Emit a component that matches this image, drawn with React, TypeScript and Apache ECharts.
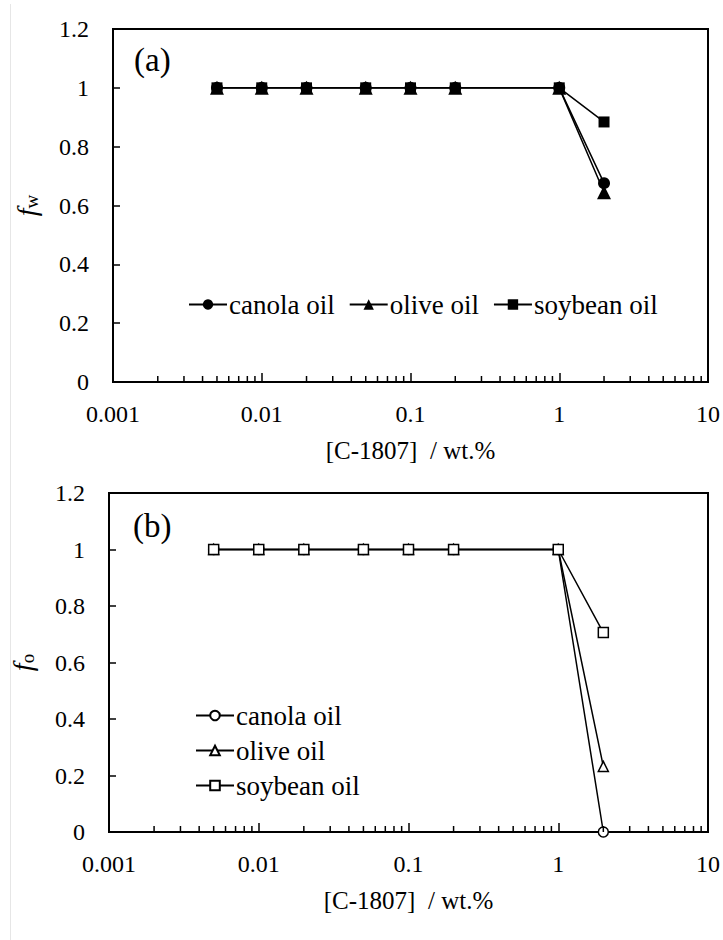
import React, { useEffect, useRef } from "react";
import * as echarts from "echarts";

const concentrations = [0.005, 0.01, 0.02, 0.05, 0.1, 0.2, 1, 2];
const seriesNames = ["canola oil", "olive oil", "soybean oil"];
// panel (a) f_w
const fwCanola = [1, 1, 1, 1, 1, 1, 1, 0.676];
const fwOlive = [1, 1, 1, 1, 1, 1, 1, 0.645];
const fwSoybean = [1, 1, 1, 1, 1, 1, 1, 0.884];
// panel (b) f_o
const foCanola = [1, 1, 1, 1, 1, 1, 1, 0];
const foOlive = [1, 1, 1, 1, 1, 1, 1, 0.232];
const foSoybean = [1, 1, 1, 1, 1, 1, 1, 0.706];
const minorTickValues = [0.001, 0.01, 0.1, 1].flatMap((d) =>
  [2, 3, 4, 5, 6, 7, 8, 9].map((m) => +(d * m).toPrecision(3))
);

const FONT = "Liberation Serif";

export default function App() {
  const ref = useRef<HTMLDivElement>(null);
  useEffect(() => {
    if (!ref.current) return;
    const chart = echarts.init(ref.current, undefined, { renderer: "svg" });

    const xAxisBase = (gridIndex: number) => ({
      type: "log",
      logBase: 10,
      min: 0.001,
      max: 10,
      gridIndex,
      name: "[C-1807]  / wt.%",
      nameLocation: "middle",
      nameGap: 56,
      nameTextStyle: { fontFamily: FONT, fontSize: 25, color: "#000" },
      axisLine: { show: true, lineStyle: { color: "#000", width: 2 } },
      axisTick: { show: true, inside: true, length: 9, lineStyle: { color: "#000", width: 1.5 } },
      axisLabel: { fontFamily: FONT, fontSize: 24, color: "#000", margin: 20 },
      splitLine: { show: false },
      minorTick: { show: false },
    });
    const yAxisBase = (gridIndex: number, sub: string) => ({
      type: "value",
      min: 0,
      max: 1.2,
      interval: 0.2,
      gridIndex,
      name: `{f|f}{s|${sub}}`,
      nameLocation: "middle",
      nameRotate: 90,
      nameGap: 72,
      nameTextStyle: {
        fontFamily: FONT,
        rich: {
          f: { fontFamily: FONT, fontStyle: "italic", fontSize: 28, color: "#000", lineHeight: 30 },
          s: { fontFamily: FONT, fontSize: 19, color: "#000", verticalAlign: "bottom", lineHeight: 18 },
        },
      },
      axisLine: { show: true, lineStyle: { color: "#000", width: 2 } },
      axisTick: { show: true, inside: true, length: 7, lineStyle: { color: "#000", width: 1.5 } },
      axisLabel: { fontFamily: FONT, fontSize: 24, color: "#000", margin: 24 },
      splitLine: { show: false },
    });

    const lineSeries = (
      name: string,
      data: number[],
      symbol: string,
      size: number,
      filled: boolean,
      idx: number
    ) => ({
      type: "line",
      name,
      xAxisIndex: idx,
      yAxisIndex: idx,
      data: concentrations.map((c, i) => [c, data[i]]),
      symbol,
      symbolSize: size,
      showAllSymbol: true,
      clip: false,
      lineStyle: { color: "#000", width: 1.5 },
      itemStyle: {
        color: filled ? "#000" : "#fff",
        borderColor: "#000",
        borderWidth: filled ? 0 : 1.5,
      },
      emphasis: { disabled: true },
      z: 3,
    });

    const minorSeries = (idx: number) => ({
      type: "custom",
      xAxisIndex: idx,
      yAxisIndex: idx,
      silent: true,
      clip: false,
      data: minorTickValues.map((v) => [v, 0]),
      renderItem: (_p: any, api: any) => {
        const p = api.coord([api.value(0), 0]);
        return {
          type: "line",
          shape: { x1: p[0], y1: p[1], x2: p[0], y2: p[1] - 6 },
          style: { stroke: "#000", lineWidth: 1.5 },
        };
      },
      z: 4,
    });

    chart.setOption({
      animation: false,
      backgroundColor: "#fff",
      textStyle: { fontFamily: FONT, color: "#000" },
      grid: [
        { left: 113, top: 29, width: 596, height: 353, show: true, borderColor: "#000", borderWidth: 2, backgroundColor: "transparent" },
        { left: 107, top: 493, width: 601, height: 339, show: true, borderColor: "#000", borderWidth: 2, backgroundColor: "transparent" },
      ],
      xAxis: [xAxisBase(0), xAxisBase(1)],
      yAxis: [yAxisBase(0, "w"), yAxisBase(1, "o")],
      legend: [
        {
          data: seriesNames.map((n) => ({ name: n })),
          orient: "horizontal",
          left: 183,
          top: 286,
          itemWidth: 38,
          itemHeight: 13,
          itemGap: 14,
          selectedMode: false,
          textStyle: { fontFamily: FONT, fontSize: 27, color: "#000", padding: [0, 0, 0, -3] },
        },
        {
          data: seriesNames.map((n) => ({ name: n + " " })),
          orient: "vertical",
          left: 190,
          top: 697,
          itemWidth: 38,
          itemHeight: 12,
          itemGap: 8,
          selectedMode: false,
          textStyle: { fontFamily: FONT, fontSize: 27, color: "#000", lineHeight: 27, padding: [0, 0, 0, -3] },
        },
      ],
      graphic: [
        { type: "line", shape: { x1: 10.5, y1: 4, x2: 10.5, y2: 940 }, style: { stroke: "#e6e6e6", lineWidth: 1 } },
        { type: "text", left: 134, top: 43, style: { text: "(a)", font: `33px ${FONT}`, fill: "#000" } },
        { type: "text", left: 133, top: 509, style: { text: "(b)", font: `33px ${FONT}`, fill: "#000" } },
      ],
      series: [
        lineSeries(seriesNames[0], fwCanola, "circle", 12, true, 0),
        lineSeries(seriesNames[1], fwOlive, "triangle", 14, true, 0),
        lineSeries(seriesNames[2], fwSoybean, "rect", 11, true, 0),
        lineSeries(seriesNames[0] + " ", foCanola, "circle", 10, false, 1),
        lineSeries(seriesNames[1] + " ", foOlive, "triangle", 10, false, 1),
        lineSeries(seriesNames[2] + " ", foSoybean, "rect", 10, false, 1),
        minorSeries(0),
        minorSeries(1),
      ],
    });
    return () => chart.dispose();
  }, []);
  return (
    <div
      ref={ref}
      style={{ position: "absolute", left: 0, top: 0, width: 723, height: 940, background: "#fff" }}
    />
  );
}
